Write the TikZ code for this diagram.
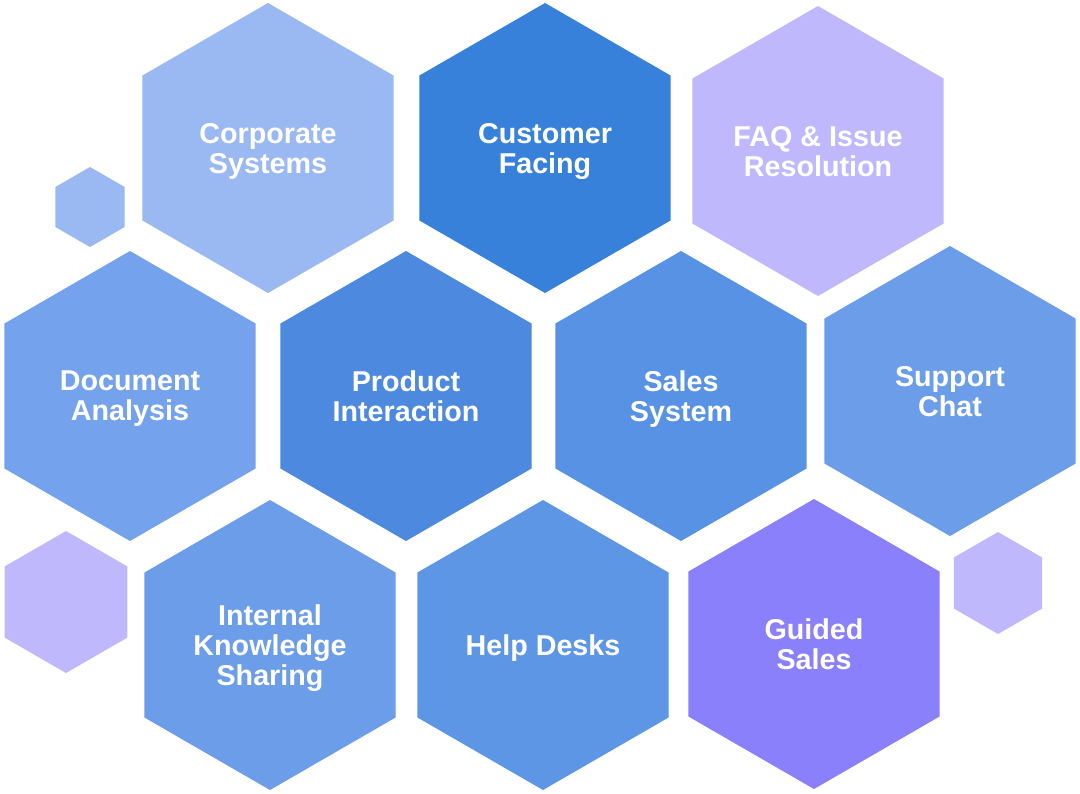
\documentclass[tikz,border=0pt]{standalone}
\usepackage{fontspec}
\setmainfont{Liberation Sans}
\usetikzlibrary{shapes.geometric}

\definecolor{paleblue}{HTML}{9AB8F2}
\definecolor{deepblue}{HTML}{3781DA}
\definecolor{lilac}{HTML}{BFB8FC}
\definecolor{softblue}{HTML}{74A2EC}
\definecolor{midblue}{HTML}{4C89DF}
\definecolor{salesblue}{HTML}{5792E4}
\definecolor{chatblue}{HTML}{6C9DE9}
\definecolor{helpblue}{HTML}{5E96E6}
\definecolor{violet}{HTML}{8A80FC}

\begin{document}
\begin{tikzpicture}[x=0.5pt,y=-0.5pt]
\tikzstyle{hexa}=[regular polygon, regular polygon sides=6, regular polygon rotate=30, inner sep=0pt, outer sep=0pt]
\tikzstyle{bighex}=[hexa, minimum size=145pt, text=white, align=center, text depth=0pt, font=\fontsize{14.35pt}{15pt}\selectfont\bfseries]
\tikzstyle{dot}=[hexa]
\useasboundingbox (0,0) rectangle (1080,793);

% small decorative hexagons
\node[dot, fill=paleblue, minimum size=40pt] (deco1) at (90,207) {};
\node[dot, fill=lilac, minimum size=71pt] (deco2) at (66,602) {};
\node[dot, fill=lilac, minimum size=51pt] (deco3) at (998,583) {};

% top row
\node[bighex, fill=paleblue] (corp) at (268,148) {Corporate\\Systems};
\node[bighex, fill=deepblue] (cust) at (545,148) {Customer\\Facing};
\node[bighex, fill=lilac] (faq) at (818,151) {FAQ \& Issue\\Resolution};

% middle row
\node[bighex, fill=softblue] (doc) at (130,396) {Document\\Analysis};
\node[bighex, fill=midblue] (prod) at (406,396) {Product\\Interaction};
\node[bighex, fill=salesblue] (sales) at (681,396) {Sales\\System};
\node[bighex, fill=chatblue] (chat) at (950,391) {Support\\Chat};

% bottom row
\node[bighex, fill=chatblue] (know) at (270,645) {Internal\\Knowledge\\Sharing};
\node[bighex, fill=helpblue] (help) at (543,645) {Help Desks};
\node[bighex, fill=violet] (guided) at (814,644) {Guided\\Sales};
\end{tikzpicture}
\end{document}
